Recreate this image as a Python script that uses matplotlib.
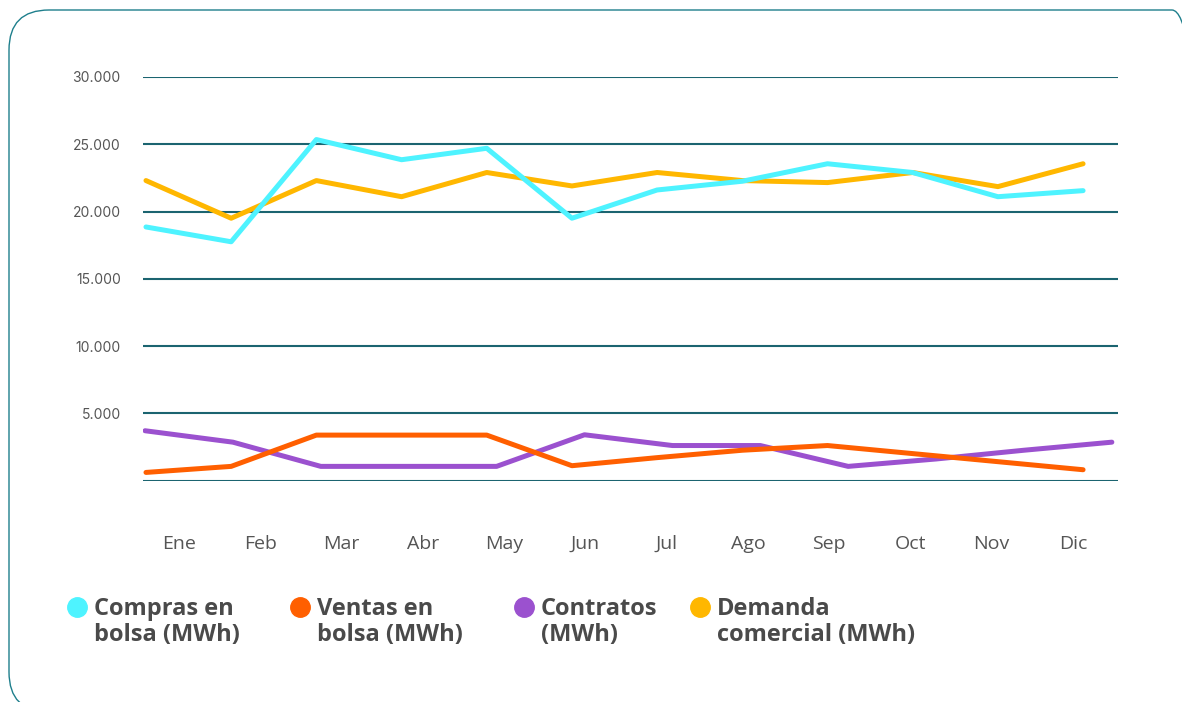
import matplotlib
matplotlib.use('Agg')
import matplotlib.pyplot as plt
import numpy as np
from matplotlib.patches import FancyBboxPatch
from matplotlib.lines import Line2D

# datos mensuales (MWh)
meses = ['Ene', 'Feb', 'Mar', 'Abr', 'May', 'Jun', 'Jul', 'Ago', 'Sep', 'Oct', 'Nov', 'Dic']
compras = [18850, 17750, 25350, 23850, 24700, 19500, 21600, 22250, 23550, 22900, 21100, 21550]
ventas = [600, 1050, 3375, 3375, 3375, 1100, 1700, 2250, 2600, 2000, 1400, 800]
contratos = [3700, 2850, 1050, 1050, 1050, 3400, 2600, 2600, 1050, 1600, 2250, 2850]
demanda = [22300, 19500, 22300, 21100, 22900, 21900, 22900, 22300, 22150, 22900, 21850, 23550]

y_ticks = [0, 5000, 10000, 15000, 20000, 25000, 30000]
y_labels = ['', '5.000', '10.000', '15.000', '20.000', '25.000', '30.000']

series = [
    ('Compras en\nbolsa (MWh)', '#4ef3ff'),
    ('Ventas en\nbolsa (MWh)', '#ff5f00'),
    ('Contratos\n(MWh)', '#9b51cf'),
    ('Demanda\ncomercial (MWh)', '#ffb700'),
]

W, H = 1182, 702
fig = plt.figure(figsize=(W / 100, H / 100), dpi=100)

# marco redondeado (en pulgadas)
marco = FancyBboxPatch((0.09, -0.10), 12.03, 7.02, boxstyle='round,pad=0,rounding_size=0.4',
                       transform=fig.dpi_scale_trans, fill=False, ec='#1e7f8c', lw=1.0)
fig.add_artist(marco)

left, right, bottom, top = 143, 1118, 480.5, 77
ax = fig.add_axes([left / W, (H - bottom) / H, (right - left) / W, (bottom - top) / H])
ax.set_ylim(0, 30000)
ax.set_yticks(y_ticks)
ax.set_yticklabels(y_labels)
ax.yaxis.grid(True, color='#1b6470', lw=1.5)
ax.set_axisbelow(True)
x = np.arange(len(meses))
ax.set_xlim(-0.443, 11.554)
ax.set_xticks(x)
ax.set_xticklabels(meses)
ax.tick_params(axis='both', length=0)
ax.tick_params(axis='y', pad=16, labelsize=10, labelcolor='#555555')
ax.tick_params(axis='x', pad=39, labelsize=14, labelcolor='#555555')
for lab in ax.get_yticklabels():
    lab.set_fontfamily('Inter')
for lab in ax.get_xticklabels():
    lab.set_fontfamily('Open Sans')
for s in ax.spines.values():
    s.set_visible(False)

# contratos en su propio eje x
ax_p = ax.twiny()
ax_p.set_xlim(-0.023, 11.07)
ax_p.plot(x, contratos, color=series[2][1], lw=3.6, solid_capstyle='round')

ax_a = ax.twiny()
ax_a.set_xlim(-0.035, 11.41)
ax_a.plot(x, ventas, color=series[1][1], lw=3.6, solid_capstyle='round')
ax_a.plot(x, demanda, color=series[3][1], lw=3.6, solid_capstyle='round')
ax_a.plot(x, compras, color=series[0][1], lw=3.6, solid_capstyle='round')

for a in (ax_p, ax_a):
    a.set_xticks([])
    a.set_ylim(0, 30000)
    for s in a.spines.values():
        s.set_visible(False)

# leyenda manual
marker_x = [77, 300, 524, 700]
for (label, color), mx in zip(series, marker_x):
    fig.add_artist(Line2D([mx / W], [(H - 607) / H], marker='o', ms=14, color=color,
                          ls='none', transform=fig.transFigure))
    fig.text((mx + 17) / W, (H - 641) / H, label, fontsize=17, fontweight='bold',
             color='#4a4a4a', family='Open Sans', va='baseline', ha='left', linespacing=1.1)

fig.savefig('out.png', dpi=100)
